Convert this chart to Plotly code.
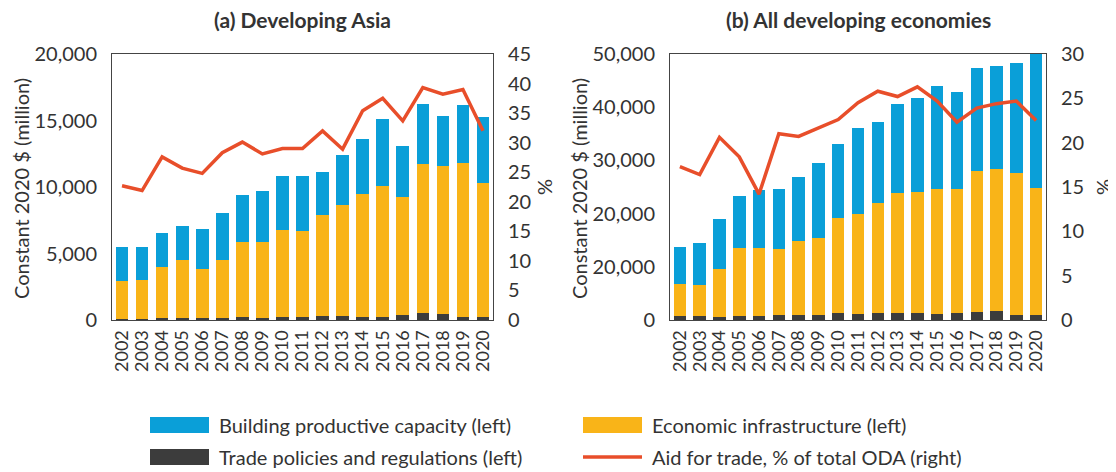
import plotly.graph_objects as go

# the page adds an 8px body margin, so the figure is drawn 8px smaller and
# reference pixel positions are shifted by that amount
OFF = 8
W, H = 1116 - OFF, 472 - OFF

years = [str(y) for y in range(2002, 2021)]

# (a) Developing Asia, $ million
asia_trade_pol = [100, 100, 180, 180, 180, 180, 250, 180, 250, 250, 330, 330, 250, 250, 400, 550, 480, 250, 250]
asia_econ_infra = [2860, 2930, 3830, 4360, 3680, 4360, 5640, 5710, 6540, 6470, 7590, 8340, 9250, 9850, 8870, 11200, 11120, 11580, 10080]
asia_prod_cap = [2530, 2460, 2560, 2530, 2980, 3510, 3510, 3810, 4040, 4110, 3210, 3740, 4110, 5010, 3810, 4490, 3740, 4340, 4930]
asia_aft_share = [22.7, 21.9, 27.6, 25.7, 24.8, 28.3, 30.1, 28.1, 29.0, 29.0, 32.0, 28.9, 35.4, 37.5, 33.7, 39.3, 38.2, 39.0, 32.0]

# (b) All developing economies, $ million
all_trade_pol = [820, 820, 630, 820, 820, 1000, 1000, 1000, 1380, 1190, 1380, 1380, 1380, 1190, 1380, 1570, 1760, 1000, 1000]
all_econ_infra = [6030, 5840, 9040, 12780, 12780, 12400, 13800, 14500, 17720, 18810, 20520, 22420, 22620, 23410, 23320, 26430, 26540, 26600, 23900]
all_prod_cap = [6950, 7740, 9230, 9800, 10800, 11200, 12000, 14100, 13900, 16100, 15300, 16800, 17700, 19400, 18100, 19400, 19400, 20700, 25100]
all_aft_share = [17.3, 16.4, 20.6, 18.4, 14.2, 21.0, 20.7, 21.7, 22.6, 24.5, 25.8, 25.2, 26.3, 24.7, 22.3, 23.9, 24.4, 24.7, 22.5]

left_ticks_a = [0, 5000, 10000, 15000, 20000]
left_text_a = ["0", "5,000", "10,000", "15,000", "20,000"]
left_ticks_b = [0, 10000, 20000, 30000, 40000, 50000]
left_text_b = ["0", "20,000", "20,000", "30,000", "40,000", "50,000"]

series_names = ["Building productive capacity (left)", "Economic infrastructure (left)",
                "Trade policies and regulations (left)", "Aid for trade, % of total ODA (right)"]

BLUE = "#0A9FD8"
YELLOW = "#F9B418"
DARK = "#3C3C3C"
RED = "#E84E2A"
TXT = "#333333"
FONT = "Lato"


def px_x(x):
    return (x - OFF) / W


def px_y(y):
    return 1 - (y - OFF) / H


fig = go.Figure()

panels = [
    ("x", "y", "y2", asia_trade_pol, asia_econ_infra, asia_prod_cap, asia_aft_share),
    ("x2", "y3", "y4", all_trade_pol, all_econ_infra, all_prod_cap, all_aft_share),
]
for xa, ya, ya2, tp, ei, pc, share in panels:
    fig.add_trace(go.Bar(x=years, y=tp, marker_color=DARK, xaxis=xa, yaxis=ya, showlegend=False))
    fig.add_trace(go.Bar(x=years, y=ei, marker_color=YELLOW, xaxis=xa, yaxis=ya, showlegend=False))
    fig.add_trace(go.Bar(x=years, y=pc, marker_color=BLUE, xaxis=xa, yaxis=ya, showlegend=False))
    fig.add_trace(go.Scatter(x=years, y=share, mode="lines", line=dict(color=RED, width=3.5),
                             xaxis=xa, yaxis=ya2, showlegend=False))

tickfont = dict(family=FONT, size=20, color=TXT)
yeartickfont = dict(family=FONT, size=18, color=TXT)
frame = dict(showline=True, linecolor="#444444", linewidth=1, mirror=True,
             showgrid=False, zeroline=False, automargin=False)
noticks = dict(ticks="outside", tickcolor="rgba(0,0,0,0)")
yearticks = dict(type="category", tickangle=-90, tickmode="array", tickvals=years, ticktext=years,
                 tickfont=yeartickfont, ticklen=2)

y_dom = [px_y(320), px_y(54)]
fig.update_layout(
    width=W, height=H,
    margin=dict(l=0, r=0, t=0, b=0),
    template="none",
    paper_bgcolor="white", plot_bgcolor="white",
    barmode="stack", bargap=0.37,
    font=dict(family=FONT, color=TXT),
    xaxis=dict(domain=[px_x(112), px_x(493)], anchor="y", **yearticks, **noticks, **frame),
    yaxis=dict(domain=y_dom, anchor="x", range=[0, 20000], tickvals=left_ticks_a, ticktext=left_text_a,
               tickfont=tickfont, ticklen=10, **noticks, **frame),
    yaxis2=dict(overlaying="y", side="right", anchor="x", range=[0, 45], dtick=5,
                tickfont=tickfont, ticklen=10, **noticks,
                showgrid=False, zeroline=False, automargin=False),
    xaxis2=dict(domain=[px_x(670), px_x(1046)], anchor="y3", **yearticks, **noticks, **frame),
    yaxis3=dict(domain=y_dom, anchor="x2", range=[0, 50000], tickvals=left_ticks_b, ticktext=left_text_b,
                tickfont=tickfont, ticklen=10, **noticks, **frame),
    yaxis4=dict(overlaying="y3", side="right", anchor="x2", range=[0, 30], dtick=5,
                tickfont=tickfont, ticklen=10, **noticks,
                showgrid=False, zeroline=False, automargin=False),
)

# titles and axis titles
ann = [
    dict(text="<b>(a) Developing Asia</b>", x=px_x(302), y=px_y(20), size=21, angle=0),
    dict(text="<b>(b) All developing economies</b>", x=px_x(858), y=px_y(20), size=21, angle=0),
    dict(text="Constant 2020 $ (million)", x=px_x(21), y=px_y(189), size=20, angle=-90),
    dict(text="Constant 2020 $ (million)", x=px_x(579), y=px_y(189), size=20, angle=-90),
    dict(text="%", x=px_x(544), y=px_y(187), size=20, angle=-90),
    dict(text="%", x=px_x(1103), y=px_y(187), size=20, angle=-90),
]
for a in ann:
    fig.add_annotation(text=a["text"], x=a["x"], y=a["y"], xref="paper", yref="paper",
                       showarrow=False, textangle=a["angle"], xanchor="center", yanchor="middle",
                       font=dict(family=FONT, size=a["size"], color=TXT))

# legend, two columns
legend_items = [
    (series_names[0], BLUE, "box", 150, 425),
    (series_names[1], YELLOW, "box", 583, 425),
    (series_names[2], DARK, "box", 150, 457),
    (series_names[3], RED, "line", 583, 457),
]
for name, color, kind, lx, ly in legend_items:
    if kind == "box":
        fig.add_shape(type="rect", xref="paper", yref="paper",
                      x0=px_x(lx), x1=px_x(lx + 59), y0=px_y(ly - 8), y1=px_y(ly + 8),
                      fillcolor=color, line=dict(width=0))
    else:
        fig.add_shape(type="line", xref="paper", yref="paper",
                      x0=px_x(lx), x1=px_x(lx + 59), y0=px_y(ly), y1=px_y(ly),
                      line=dict(color=color, width=3.5))
    fig.add_annotation(text=name, x=px_x(lx + 67), y=px_y(ly), xref="paper", yref="paper",
                       showarrow=False, xanchor="left", yanchor="middle",
                       font=dict(family=FONT, size=20, color=TXT))

fig.write_html("out.html")
